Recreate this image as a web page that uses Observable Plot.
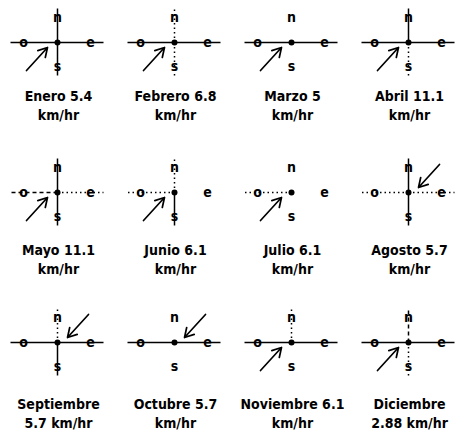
<!DOCTYPE html>
<html><head><meta charset="utf-8">
<script src="https://cdn.jsdelivr.net/npm/d3@7"></script>
<script src="https://cdn.jsdelivr.net/npm/@observablehq/plot@0.6"></script>
<style>body{margin:0;background:#fff}</style>
</head><body><div id="chart"></div>
<script>
// Data
const months = ["Enero","Febrero","Marzo","Abril","Mayo","Junio","Julio","Agosto","Septiembre","Octubre","Noviembre","Diciembre"];
const speeds = ["5.4","6.8","5","11.1","11.1","6.1","6.1","5.7","5.7","5.7","6.1","2.88"];
const windFrom = ["SO","SO","SO","SO","SO","SO","SO","NE","NE","NE","SO","SO"];
// arm line style for each cardinal point (n, s, o, e)
const armN = ["solid","dotted","none","solid","solid","dotted","none","solid","dotted","none","dotted","dashed"];
const armS = ["solid","dotted","none","dotted","solid","solid","none","solid","solid","none","none","dotted"];
const armO = ["solid","solid","solid","solid","dashed","dotted","dotted","dotted","solid","solid","solid","solid"];
const armE = ["solid","solid","solid","solid","dotted","none","none","dotted","solid","solid","solid","solid"];
const cardinals = ["n","s","o","e"];

// Compass geometry (local units = px inside each panel)
const dir = {n:[0,1], s:[0,-1], o:[-1,0], e:[1,0]};
const armLen = {n:34, s:33, o:47, e:46};
const labelDist = {n:25, s:24, o:34, e:33};
const armStyles = {n:armN, s:armS, o:armO, e:armE};
const labelGap = [45, 49, 53]; // caption distance below compass, per row

const cells = months.map((m,i) => {
  const one = `${m} ${speeds[i]}`;
  const wrap = one.length > 13;
  return {
    i, col: i % 4, row: Math.floor(i / 4),
    label: wrap ? `${m}\n${speeds[i]} km/hr` : `${one}\nkm/hr`,
    sign: windFrom[i] === "SO" ? 1 : -1
  };
});
const arms = cells.flatMap(c => cardinals.map(k => ({...c, k, style: armStyles[k][c.i]})));
const armsOf = s => arms.filter(a => a.style === s);

const fxy = {fx: "col", fy: "row"};
const armX = a => dir[a.k][0] * armLen[a.k];
const armY = a => dir[a.k][1] * armLen[a.k];

const chart = Plot.plot({
  width: 456, height: 435,
  marginTop: 0, marginLeft: 0, marginRight: -12, marginBottom: -15,
  style: {fontFamily: "'DejaVu Sans Condensed', 'DejaVu Sans', sans-serif", fontSize: "14px", background: "#fff"},
  fx: {axis: null, padding: 0, domain: [0,1,2,3]},
  fy: {axis: null, padding: 0, domain: [0,1,2]},
  x: {axis: null, domain: [-57, 60]},
  y: {axis: null, domain: [-108, 42]},
  marks: [
    Plot.link(armsOf("solid"), {...fxy, x1: 0, y1: 0, x2: armX, y2: armY, stroke: "#000", strokeWidth: 1.5}),
    Plot.link(armsOf("dotted"), {...fxy, x1: 0, y1: 0, x2: armX, y2: armY, stroke: "#000", strokeWidth: 1.5, strokeDasharray: "1.5,3"}),
    Plot.link(armsOf("dashed"), {...fxy, x1: 0, y1: 0, x2: armX, y2: armY, stroke: "#000", strokeWidth: 1.5, strokeDasharray: "4,3"}),
    Plot.text(arms, {...fxy, x: a => dir[a.k][0] * labelDist[a.k], y: a => dir[a.k][1] * labelDist[a.k], text: "k", fontSize: 14, fontWeight: "bold", fill: "#000"}),
    Plot.dot(cells, {...fxy, x: 0, y: 0, r: 3, fill: "#000", stroke: null}),
    Plot.arrow(cells, {...fxy, x1: c => -31 * c.sign, y1: c => -28 * c.sign, x2: c => -10 * c.sign, y2: c => -5 * c.sign,
      stroke: "#000", strokeWidth: 1.7, headLength: 9, bend: 0}),
    Plot.text(cells, {...fxy, x: 1, y: c => -labelGap[c.row], text: "label", lineAnchor: "top", lineHeight: 1.35, fontSize: 14, fontWeight: "bold", fill: "#000"})
  ]
});
document.getElementById("chart").append(chart);
</script>
</body></html>
